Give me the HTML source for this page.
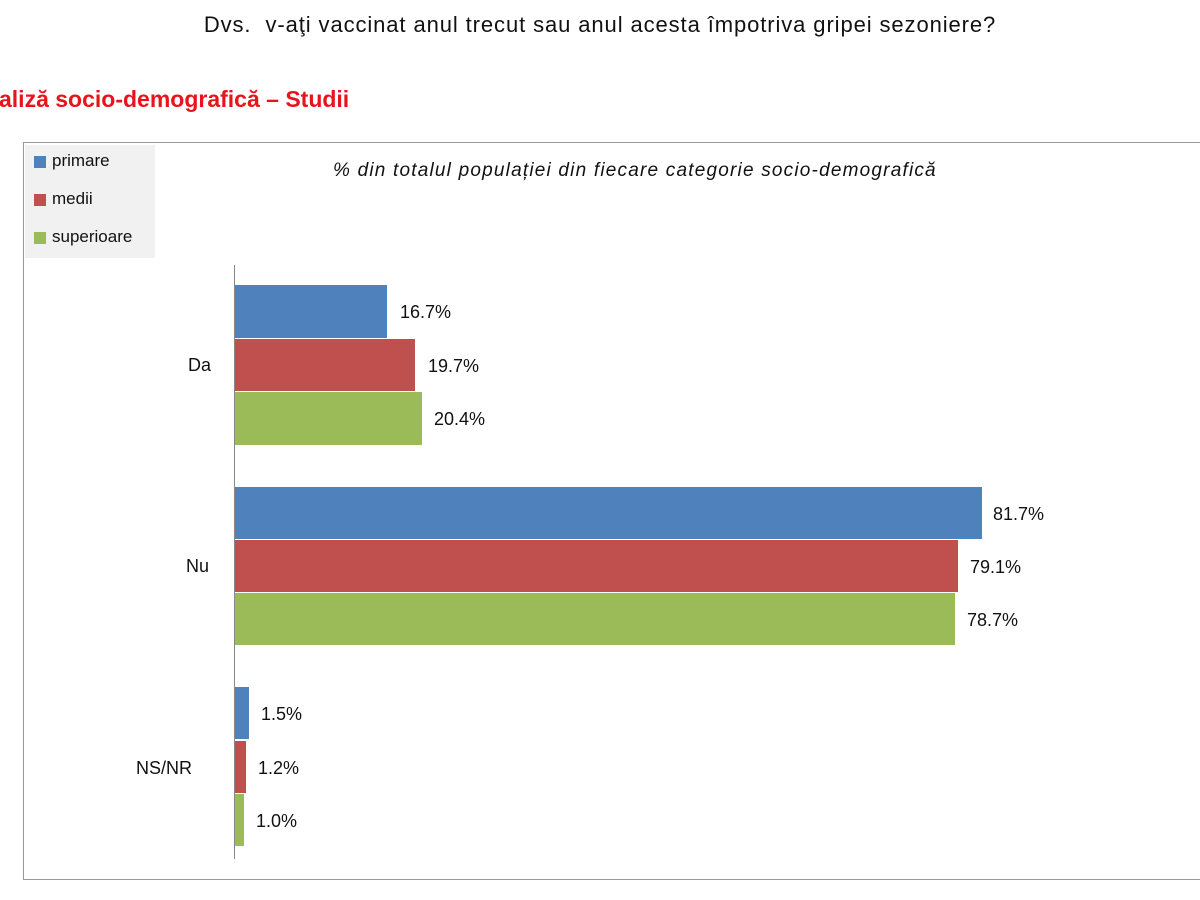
<!DOCTYPE html>
<html><head><meta charset="utf-8"><style>
body{margin:0;width:1200px;height:900px;background:#fff;position:relative;overflow:hidden;font-family:"Liberation Sans",sans-serif}
.a{position:absolute}
.lbl{position:absolute;font-size:18px;color:#111}
.bar{position:absolute;left:235px}
</style></head><body>
<div class="a" style="left:0;width:1200px;top:12px;text-align:center;font-size:22px;letter-spacing:0.9px;color:#111">Dvs.&nbsp; v-aţi vaccinat anul trecut sau anul acesta împotriva gripei sezoniere?</div>
<div class="a" style="left:-1px;top:86px;font-size:23px;font-weight:bold;color:#e8141c">aliză socio-demografică – Studii</div>
<div class="a" style="left:23px;top:142px;width:1190px;height:738px;border:1px solid #999;box-sizing:border-box"></div>
<div class="a" style="left:25px;top:145px;width:130px;height:113px;background:#f1f1f1"></div>
<div class="a" style="left:34px;top:156px;width:12px;height:12px;background:#4f81bd"></div>
<div class="lbl" style="left:52px;top:151px;font-size:17px">primare</div>
<div class="a" style="left:34px;top:194px;width:12px;height:12px;background:#c0504d"></div>
<div class="lbl" style="left:52px;top:189px;font-size:17px">medii</div>
<div class="a" style="left:34px;top:232px;width:12px;height:12px;background:#9bbb59"></div>
<div class="lbl" style="left:52px;top:227px;font-size:17px">superioare</div>
<div class="a" style="left:333px;top:160px;font-size:19px;letter-spacing:1.2px;font-style:italic;color:#111">% din totalul populației din fiecare categorie socio-demografică</div>
<div class="a" style="left:234px;top:265px;width:1px;height:594px;background:#888"></div>
<div class="lbl" style="left:188px;top:355px">Da</div>
<div class="lbl" style="left:186px;top:556px">Nu</div>
<div class="lbl" style="left:136px;top:758px">NS/NR</div>
<div class="bar" style="top:285px;height:53px;width:152px;background:#4f81bd"></div>
<div class="bar" style="top:339px;height:52px;width:180px;background:#c0504d"></div>
<div class="bar" style="top:392px;height:53px;width:187px;background:#9bbb59"></div>
<div class="bar" style="top:487px;height:52px;width:747px;background:#4f81bd"></div>
<div class="bar" style="top:540px;height:52px;width:723px;background:#c0504d"></div>
<div class="bar" style="top:593px;height:52px;width:720px;background:#9bbb59"></div>
<div class="bar" style="top:687px;height:52px;width:14px;background:#4f81bd"></div>
<div class="bar" style="top:741px;height:52px;width:11px;background:#c0504d"></div>
<div class="bar" style="top:794px;height:52px;width:9px;background:#9bbb59"></div>
<div class="lbl" style="left:400px;top:302px">16.7%</div>
<div class="lbl" style="left:428px;top:356px">19.7%</div>
<div class="lbl" style="left:434px;top:409px">20.4%</div>
<div class="lbl" style="left:993px;top:504px">81.7%</div>
<div class="lbl" style="left:970px;top:557px">79.1%</div>
<div class="lbl" style="left:967px;top:610px">78.7%</div>
<div class="lbl" style="left:261px;top:704px">1.5%</div>
<div class="lbl" style="left:258px;top:758px">1.2%</div>
<div class="lbl" style="left:256px;top:811px">1.0%</div>
</body></html>
